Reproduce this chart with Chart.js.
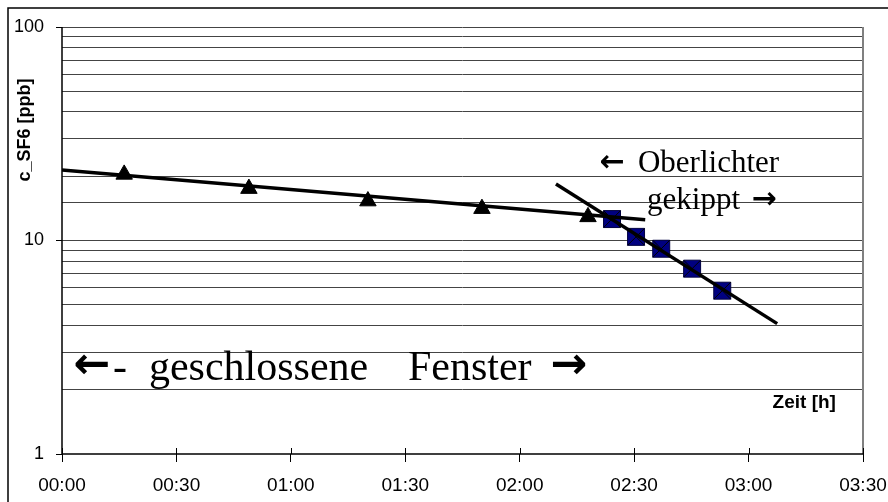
<!DOCTYPE html>
<html>
<head>
<meta charset="utf-8">
<script src="https://cdn.jsdelivr.net/npm/chart.js@4.4.0/dist/chart.umd.min.js"></script>
<style>
html,body{margin:0;padding:0;background:#fff;}
#wrap{width:888px;height:502px;position:relative;}
</style>
</head>
<body>
<div id="wrap"><canvas id="c"></canvas></div>
<script>
// time in minutes since start, concentration in ppb
const triTimes = [16.3, 49.0, 80.2, 110.1, 137.9];
const triValues = [20.4, 17.5, 15.3, 14.1, 12.9];
const sqTimes = [144.2, 150.5, 157.1, 165.2, 173.1];
const sqValues = [12.6, 10.4, 9.15, 7.38, 5.82];
const trend1Times = [0, 152.9];
const trend1Values = [21.4, 12.5];
const trend2Times = [129.5, 187.5];
const trend2Values = [18.4, 4.08];
const xTickLabels = ['00:00','00:30','01:00','01:30','02:00','02:30','03:00','03:30'];
const yTickLabels = ['1','10','100'];
const yTitle = 'c_SF6 [ppb]';
const xTitle = 'Zeit [h]';
// annotation pieces: [text, time, isArrow]
const noteClosed = [['\u2190', 3.0, true], ['-', 13.4, false], ['geschlossene', 22.8, false], ['Fenster', 90.7, false], ['\u2192', 128.0, true]];
const noteClosedValue = 2.23;
const noteTop1 = [['\u2190', 141.0, true], ['Oberlichter', 151.0, false]];
const noteTop1Value = 20.9;
const noteTop2 = [['gekippt', 153.4, false], ['\u2192', 180.8, true]];
const noteTop2Value = 14.06;

const pts = (xs, ys) => xs.map((x, i) => ({x: x, y: ys[i]}));
const isMajor = v => Math.abs(Math.log10(v) - Math.round(Math.log10(v))) < 1e-9;

function drawPieces(ctx, xs, ys, pieces, value, size, arrowSize) {
  const y = ys.getPixelForValue(value);
  pieces.forEach(p => {
    if (p[2]) {
      ctx.font = 'bold ' + arrowSize + 'px "DejaVu Sans", sans-serif';
      ctx.fillText(p[0], xs.getPixelForValue(p[1]), y - size * 0.04);
    } else {
      ctx.font = size + 'px "Liberation Serif", "Times New Roman", serif';
      ctx.fillText(p[0], xs.getPixelForValue(p[1]), y);
    }
  });
}

const overlay = {
  id: 'overlay',
  beforeDraw(chart) {
    const ctx = chart.ctx;
    ctx.save();
    ctx.fillStyle = '#fff';
    ctx.fillRect(0, 0, chart.width, chart.height);
    ctx.restore();
  },
  afterDatasetsDraw(chart) {
    const ctx = chart.ctx, a = chart.chartArea;
    const xs = chart.scales.x, ys = chart.scales.y;
    ctx.save();
    // outer frame (top & left visible)
    ctx.strokeStyle = '#000';
    ctx.lineWidth = 1.5;
    ctx.beginPath();
    ctx.moveTo(8, chart.height + 5); ctx.lineTo(8, 8); ctx.lineTo(chart.width + 5, 8);
    ctx.stroke();
    // plot border right
    ctx.strokeStyle = '#808080';
    ctx.lineWidth = 2;
    ctx.beginPath();
    ctx.moveTo(a.right, a.top); ctx.lineTo(a.right, a.bottom);
    ctx.stroke();
    // axes
    ctx.strokeStyle = '#000';
    ctx.lineWidth = 1.5;
    ctx.beginPath();
    ctx.moveTo(a.left, a.top); ctx.lineTo(a.left, a.bottom); ctx.lineTo(a.right, a.bottom);
    ctx.stroke();
    // inner half of x ticks
    ctx.lineWidth = 1;
    xs.ticks.forEach(t => {
      const px = Math.round(xs.getPixelForValue(t.value)) + 0.5;
      ctx.beginPath(); ctx.moveTo(px, a.bottom - 6); ctx.lineTo(px, a.bottom); ctx.stroke();
    });
    // texts
    ctx.fillStyle = '#000';
    ctx.textBaseline = 'alphabetic';
    ctx.textAlign = 'left';
    drawPieces(ctx, xs, ys, noteClosed, noteClosedValue, 42, 44);
    drawPieces(ctx, xs, ys, noteTop1, noteTop1Value, 31, 30);
    drawPieces(ctx, xs, ys, noteTop2, noteTop2Value, 31, 30);
    ctx.font = 'bold 19px "Liberation Sans", Arial, sans-serif';
    ctx.textAlign = 'right';
    ctx.textBaseline = 'middle';
    ctx.fillText(xTitle, xs.getPixelForValue(202.9), ys.getPixelForValue(1.73));
    // y title rotated
    ctx.translate(25, 130);
    ctx.rotate(-Math.PI / 2);
    ctx.textAlign = 'center';
    ctx.font = 'bold 18px "Liberation Sans", Arial, sans-serif';
    ctx.fillText(yTitle, 0, 0);
    ctx.restore();
  }
};

new Chart(document.getElementById('c'), {
  type: 'scatter',
  data: {
    datasets: [
      {label: 'trend1', data: pts(trend1Times, trend1Values), showLine: true, borderColor: '#000', borderWidth: 3.5, pointRadius: 0, order: 0},
      {label: 'trend2', data: pts(trend2Times, trend2Values), showLine: true, borderColor: '#000', borderWidth: 3.5, pointRadius: 0, order: 0},
      {label: 'sqX', data: pts(sqTimes, sqValues), pointStyle: 'crossRot', pointRadius: 12, borderColor: '#000', borderWidth: 1, backgroundColor: '#000', order: 1},
      {label: 'sq', data: pts(sqTimes, sqValues), pointStyle: 'rect', pointRadius: 12, backgroundColor: '#000080', borderColor: '#000040', borderWidth: 1, order: 2},
      {label: 'tri', data: pts(triTimes, triValues), pointStyle: 'triangle', pointRadius: 9.5, backgroundColor: '#000', borderColor: '#000', borderWidth: 1, order: 3}
    ]
  },
  options: {
    responsive: true,
    maintainAspectRatio: false,
    animation: false,
    devicePixelRatio: 1,
    events: [],
    layout: {padding: {left: 0, top: 27, right: 0, bottom: 0}},
    plugins: {legend: {display: false}, tooltip: {enabled: false}},
    scales: {
      x: {
        type: 'linear', min: 0, max: 210,
        afterFit: s => { s.height = 48; s.paddingRight = 25; s.paddingLeft = 0; },
        afterBuildTicks: s => { s.ticks = xTickLabels.map((_, i) => ({value: i * 30})); },
        border: {display: false},
        grid: {display: true, drawOnChartArea: false, drawTicks: true, tickLength: 8, color: '#000', tickColor: '#000'},
        ticks: {
          autoSkip: false, maxRotation: 0, padding: 12, color: '#000',
          font: {family: '"Liberation Sans", Arial, sans-serif', size: 19},
          callback: (v, i) => xTickLabels[i]
        }
      },
      y: {
        type: 'logarithmic', min: 1, max: 100,
        afterFit: s => { s.width = 62; s.paddingTop = 0; s.paddingBottom = 0; },
        border: {display: false},
        grid: {
          display: true, drawOnChartArea: true, drawTicks: true, tickLength: 6,
          color: ctx => (ctx.tick && ctx.tick.value === 1) ? 'transparent' : '#444',
          tickColor: ctx => (ctx.tick && isMajor(ctx.tick.value)) ? '#000' : 'transparent',
          lineWidth: 1
        },
        ticks: {
          autoSkip: false, padding: 12, color: '#000',
          font: {family: '"Liberation Sans", Arial, sans-serif', size: 18},
          callback: v => isMajor(v) ? yTickLabels[Math.round(Math.log10(v))] : ''
        }
      }
    }
  },
  plugins: [overlay]
});
</script>
</body>
</html>
